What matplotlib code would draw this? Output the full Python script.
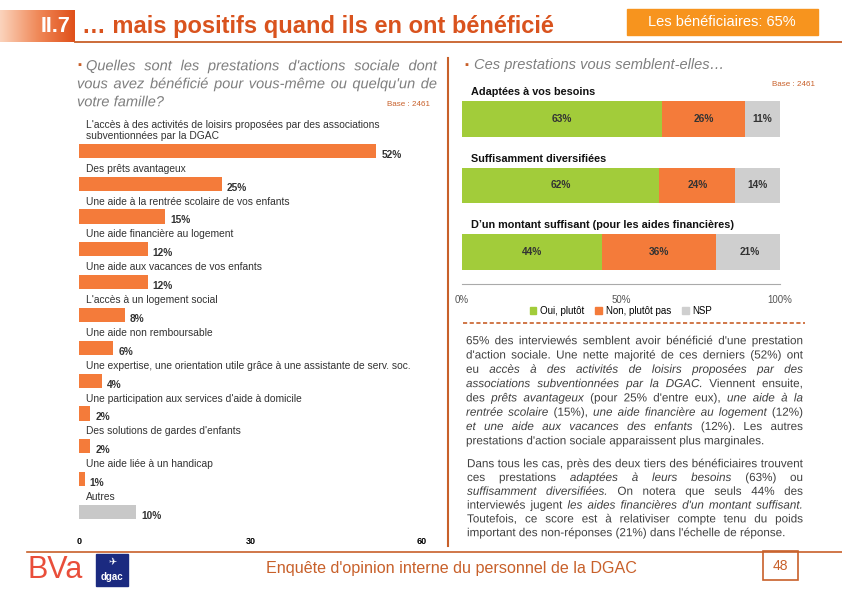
import numpy as np
import matplotlib
matplotlib.use('Agg')
import matplotlib.pyplot as plt
import matplotlib.patheffects as pe
from matplotlib.patches import Rectangle, Patch
from matplotlib.colors import LinearSegmentedColormap

plt.rcParams['font.family'] = ['Liberation Sans', 'DejaVu Sans']

# données : prestations dont on a bénéficié (base 2461)
prest_labels = [
    "L'accès à des activités de loisirs proposées par des associations\nsubventionnées par la DGAC",
    "Des prêts avantageux",
    "Une aide à la rentrée scolaire de vos enfants",
    "Une aide financière au logement",
    "Une aide aux vacances de vos enfants",
    "L'accès à un logement social",
    "Une aide non remboursable",
    "Une expertise, une orientation utile grâce à une assistante de serv. soc.",
    "Une participation aux services d'aide à domicile",
    "Des solutions de gardes d'enfants",
    "Une aide liée à un handicap",
    "Autres",
]
prest_values = [52, 25, 15, 12, 12, 8, 6, 4, 2, 2, 1, 10]
left_ticks = [0, 30, 60]

# données : jugement des prestations
items = ["Adaptées à vos besoins", "Suffisamment diversifiées",
         "D’un montant suffisant (pour les aides financières)"]
oui = [63, 62, 44]
non = [26, 24, 36]
nsp = [11, 14, 21]
right_ticks = [0, 50, 100]
right_ticklabels = ['0%', '50%', '100%']

W, H = 842, 595
ORANGE = '#F47B3A'
BROWN = '#C8602A'
GREEN = '#A2CC3A'
GREY = '#CFCFCF'

fig = plt.figure(figsize=(W / 100, H / 100), dpi=100)
bg = fig.add_axes([0, 0, 1, 1])
bg.axis('off')


def rect(x0, y0, x1, y1):
    return [x0 / W, 1 - y1 / H, (x1 - x0) / W, (y1 - y0) / H]


# bandeau titre
cmap = LinearSegmentedColormap.from_list('t', ['#FBD3BC', '#F08A5A', '#E0501A'])
bg.imshow(np.linspace(0, 1, 100)[None, :], extent=(0, 75, 42, 10), aspect='auto', cmap=cmap)
bg.set_xlim(0, W); bg.set_ylim(H, 0)
bg.text(70, 27, 'II.7', color='white', fontsize=15.5, fontweight='bold', ha='right', va='center')
bg.text(82, 27, '… mais positifs quand ils en ont bénéficié', color='#D9531E', fontsize=17,
        fontweight='bold', va='center')
bg.plot([75, W], [42, 42], color=BROWN, lw=1.3)
bg.add_patch(Rectangle((627, 9), 191, 26, color='#F7941E'))
bg.text(722, 22, 'Les bénéficiaires: 65%', color='white', fontsize=10.5, ha='center', va='center')

# séparateurs
bg.plot([448, 448], [58, 546], color=BROWN, lw=1.5)
bg.plot([463, 805], [323, 323], color=BROWN, lw=1.2, ls=(0, (2.5, 1.5)))
bg.plot([27, W], [552, 552], color=BROWN, lw=1.2)

renderer = fig.canvas.get_renderer()


def justify(tokens, x0, x1, y, size, color, last=False):
    # texte justifié mot par mot (tracé en chemins pour garder une ligne de base commune)
    words = []
    for txt, it in tokens:
        for w in txt.split():
            words.append((w, it))
    base = y + size * 0.36 * 100 / 72
    arts = [bg.text(x0, base, w, fontsize=size, style='italic' if it else 'normal',
                    color=color, va='baseline', ha='left',
                    path_effects=[pe.Normal()]) for w, it in words]
    widths = [a.get_window_extent(renderer).width for a in arts]
    if last or len(arts) < 2:
        gap = size * 0.28 * 100 / 72
    else:
        gap = (x1 - x0 - sum(widths)) / (len(arts) - 1)
    x = x0
    for a, w in zip(arts, widths):
        a.set_x(x)
        x += w + gap


# question gauche
QC = '#7F7F7F'
bg.text(77, 65, '▪', color=BROWN, fontsize=8, va='center')
justify([("Quelles sont les prestations d'actions sociale dont", True)], 86, 437, 65, 10.5, QC)
justify([("vous avez bénéficié pour vous-même ou quelqu'un de", True)], 77, 437, 83, 10.5, QC)
justify([("votre famille?", True)], 77, 437, 101, 10.5, QC, last=True)
bg.text(430, 104, 'Base : 2461', color=BROWN, fontsize=5.8, ha='right', va='center')

# question droite
bg.text(464, 65, '▪', color=BROWN, fontsize=8, va='center')
bg.text(474, 65, 'Ces prestations vous semblent-elles…', color=QC, fontsize=10.5, style='italic', va='center')
bg.text(815, 84, 'Base : 2461', color=BROWN, fontsize=5.8, ha='right', va='center')

# graphique gauche
axl = fig.add_axes(rect(79, 118, 422, 530))
ypos = np.arange(len(prest_values))
colors = [ORANGE] * (len(prest_values) - 1) + ['#C8C8C8']
axl.barh(ypos, prest_values, height=0.43, color=colors)
for i, (lab, v) in enumerate(zip(prest_labels, prest_values)):
    axl.text(1.2, i - 0.3, lab, fontsize=7.4, color='#333333', va='bottom', ha='left', linespacing=1.1)
    axl.text(v + 0.9, i + 0.12, f'{v}%', fontsize=7.3, fontweight='bold', color='#333333', va='center')
axl.set_xlim(0, 60)
axl.set_ylim(11.55, -1.0)
axl.set_xticks(left_ticks)
axl.set_xticklabels([str(t) for t in left_ticks], fontsize=6.5, fontweight='bold')
axl.tick_params(axis='x', length=0, pad=5)
axl.set_yticks([])
for s in axl.spines.values():
    s.set_visible(False)
axl.patch.set_alpha(0)

# graphique droit
axr = fig.add_axes(rect(462, 85, 780, 284))
yr = np.arange(len(items))
left2 = [a + b for a, b in zip(oui, non)]
axr.barh(yr, oui, height=0.54, color=GREEN)
axr.barh(yr, non, left=oui, height=0.54, color=ORANGE)
axr.barh(yr, nsp, left=left2, height=0.54, color=GREY)
for i in yr:
    axr.text(oui[i] / 2, i, f'{oui[i]}%', ha='center', va='center', fontsize=7.3, fontweight='bold', color='#333333')
    axr.text(oui[i] + non[i] / 2, i, f'{non[i]}%', ha='center', va='center', fontsize=7.3, fontweight='bold', color='#333333')
    axr.text(left2[i] + nsp[i] / 2, i, f'{nsp[i]}%', ha='center', va='center', fontsize=7.3, fontweight='bold', color='#333333')
    axr.text(2.8, i - 0.4, items[i], ha='left', va='center', fontsize=7.8, fontweight='bold', color='#111111')
axr.set_xlim(0, 100)
axr.set_ylim(2.48, -0.51)
axr.set_xticks(right_ticks)
axr.set_xticklabels(right_ticklabels, fontsize=7, color='#555555')
axr.tick_params(axis='x', length=0, pad=8)
axr.set_yticks([])
for k, s in axr.spines.items():
    s.set_visible(k == 'bottom')
axr.spines['bottom'].set_color('#AAAAAA')
axr.patch.set_alpha(0)
handles = [Patch(color=GREEN, label='Oui, plutôt'), Patch(color=ORANGE, label='Non, plutôt pas'),
           Patch(color=GREY, label='NSP')]
axr.legend(handles=handles, ncol=3, loc='upper center', bbox_to_anchor=(0.5, -0.075), frameon=False,
           fontsize=7, handlelength=0.7, handleheight=0.7, handletextpad=0.4, columnspacing=1.1,
           borderpad=0.2)

# commentaires
TC = '#404040'
p1 = [
    [("65% des interviewés semblent avoir bénéficié d'une prestation", False)],
    [("d'action sociale. Une nette majorité de ces derniers (52%) ont", False)],
    [("eu", False), ("accès à des activités de loisirs proposées par des", True)],
    [("associations subventionnées par la DGAC.", True), ("Viennent ensuite,", False)],
    [("des", False), ("prêts avantageux", True), ("(pour 25% d'entre eux),", False), ("une aide à la", True)],
    [("rentrée scolaire", True), ("(15%),", False), ("une aide financière au logement", True), ("(12%)", False)],
    [("et une aide aux vacances des enfants", True), ("(12%). Les autres", False)],
    [("prestations d'action sociale apparaissent plus marginales.", False)],
]
for k, line in enumerate(p1):
    justify(line, 466, 803, 340 + k * 14.3, 8.4, TC, last=(k == len(p1) - 1))

p2 = [
    [("Dans tous les cas, près des deux tiers des bénéficiaires trouvent", False)],
    [("ces prestations", False), ("adaptées à leurs besoins", True), ("(63%) ou", False)],
    [("suffisamment diversifiées.", True), ("On notera que seuls 44% des", False)],
    [("interviewés jugent", False), ("les aides financières d'un montant suffisant.", True)],
    [("Toutefois, ce score est à relativiser compte tenu du poids", False)],
    [("important des non-réponses (21%) dans l'échelle de réponse.", False)],
]
for k, line in enumerate(p2):
    justify(line, 467, 803, 463 + k * 13.8, 8.4, TC, last=(k == len(p2) - 1))

# pied de page
bg.text(451, 568, "Enquête d'opinion interne du personnel de la DGAC", color=BROWN, fontsize=11.6,
        ha='center', va='center')
bg.add_patch(Rectangle((763, 551), 35, 29, fill=False, ec=BROWN, lw=1.2))
bg.text(780.5, 566, '48', color=BROWN, fontsize=10, ha='center', va='center')
bg.text(27, 570, 'BVa', color='#E94E3A', fontsize=22, ha='left', va='center')
bg.add_patch(Rectangle((96, 554), 32, 32, color='#1B2A80'))
bg.text(112, 562, '✈', color='white', fontsize=7, ha='center', va='center', family='DejaVu Sans')
bg.text(112, 577, 'dgac', color='white', fontsize=7, fontweight='bold', ha='center', va='center')

fig.savefig('out.png', dpi=100)
